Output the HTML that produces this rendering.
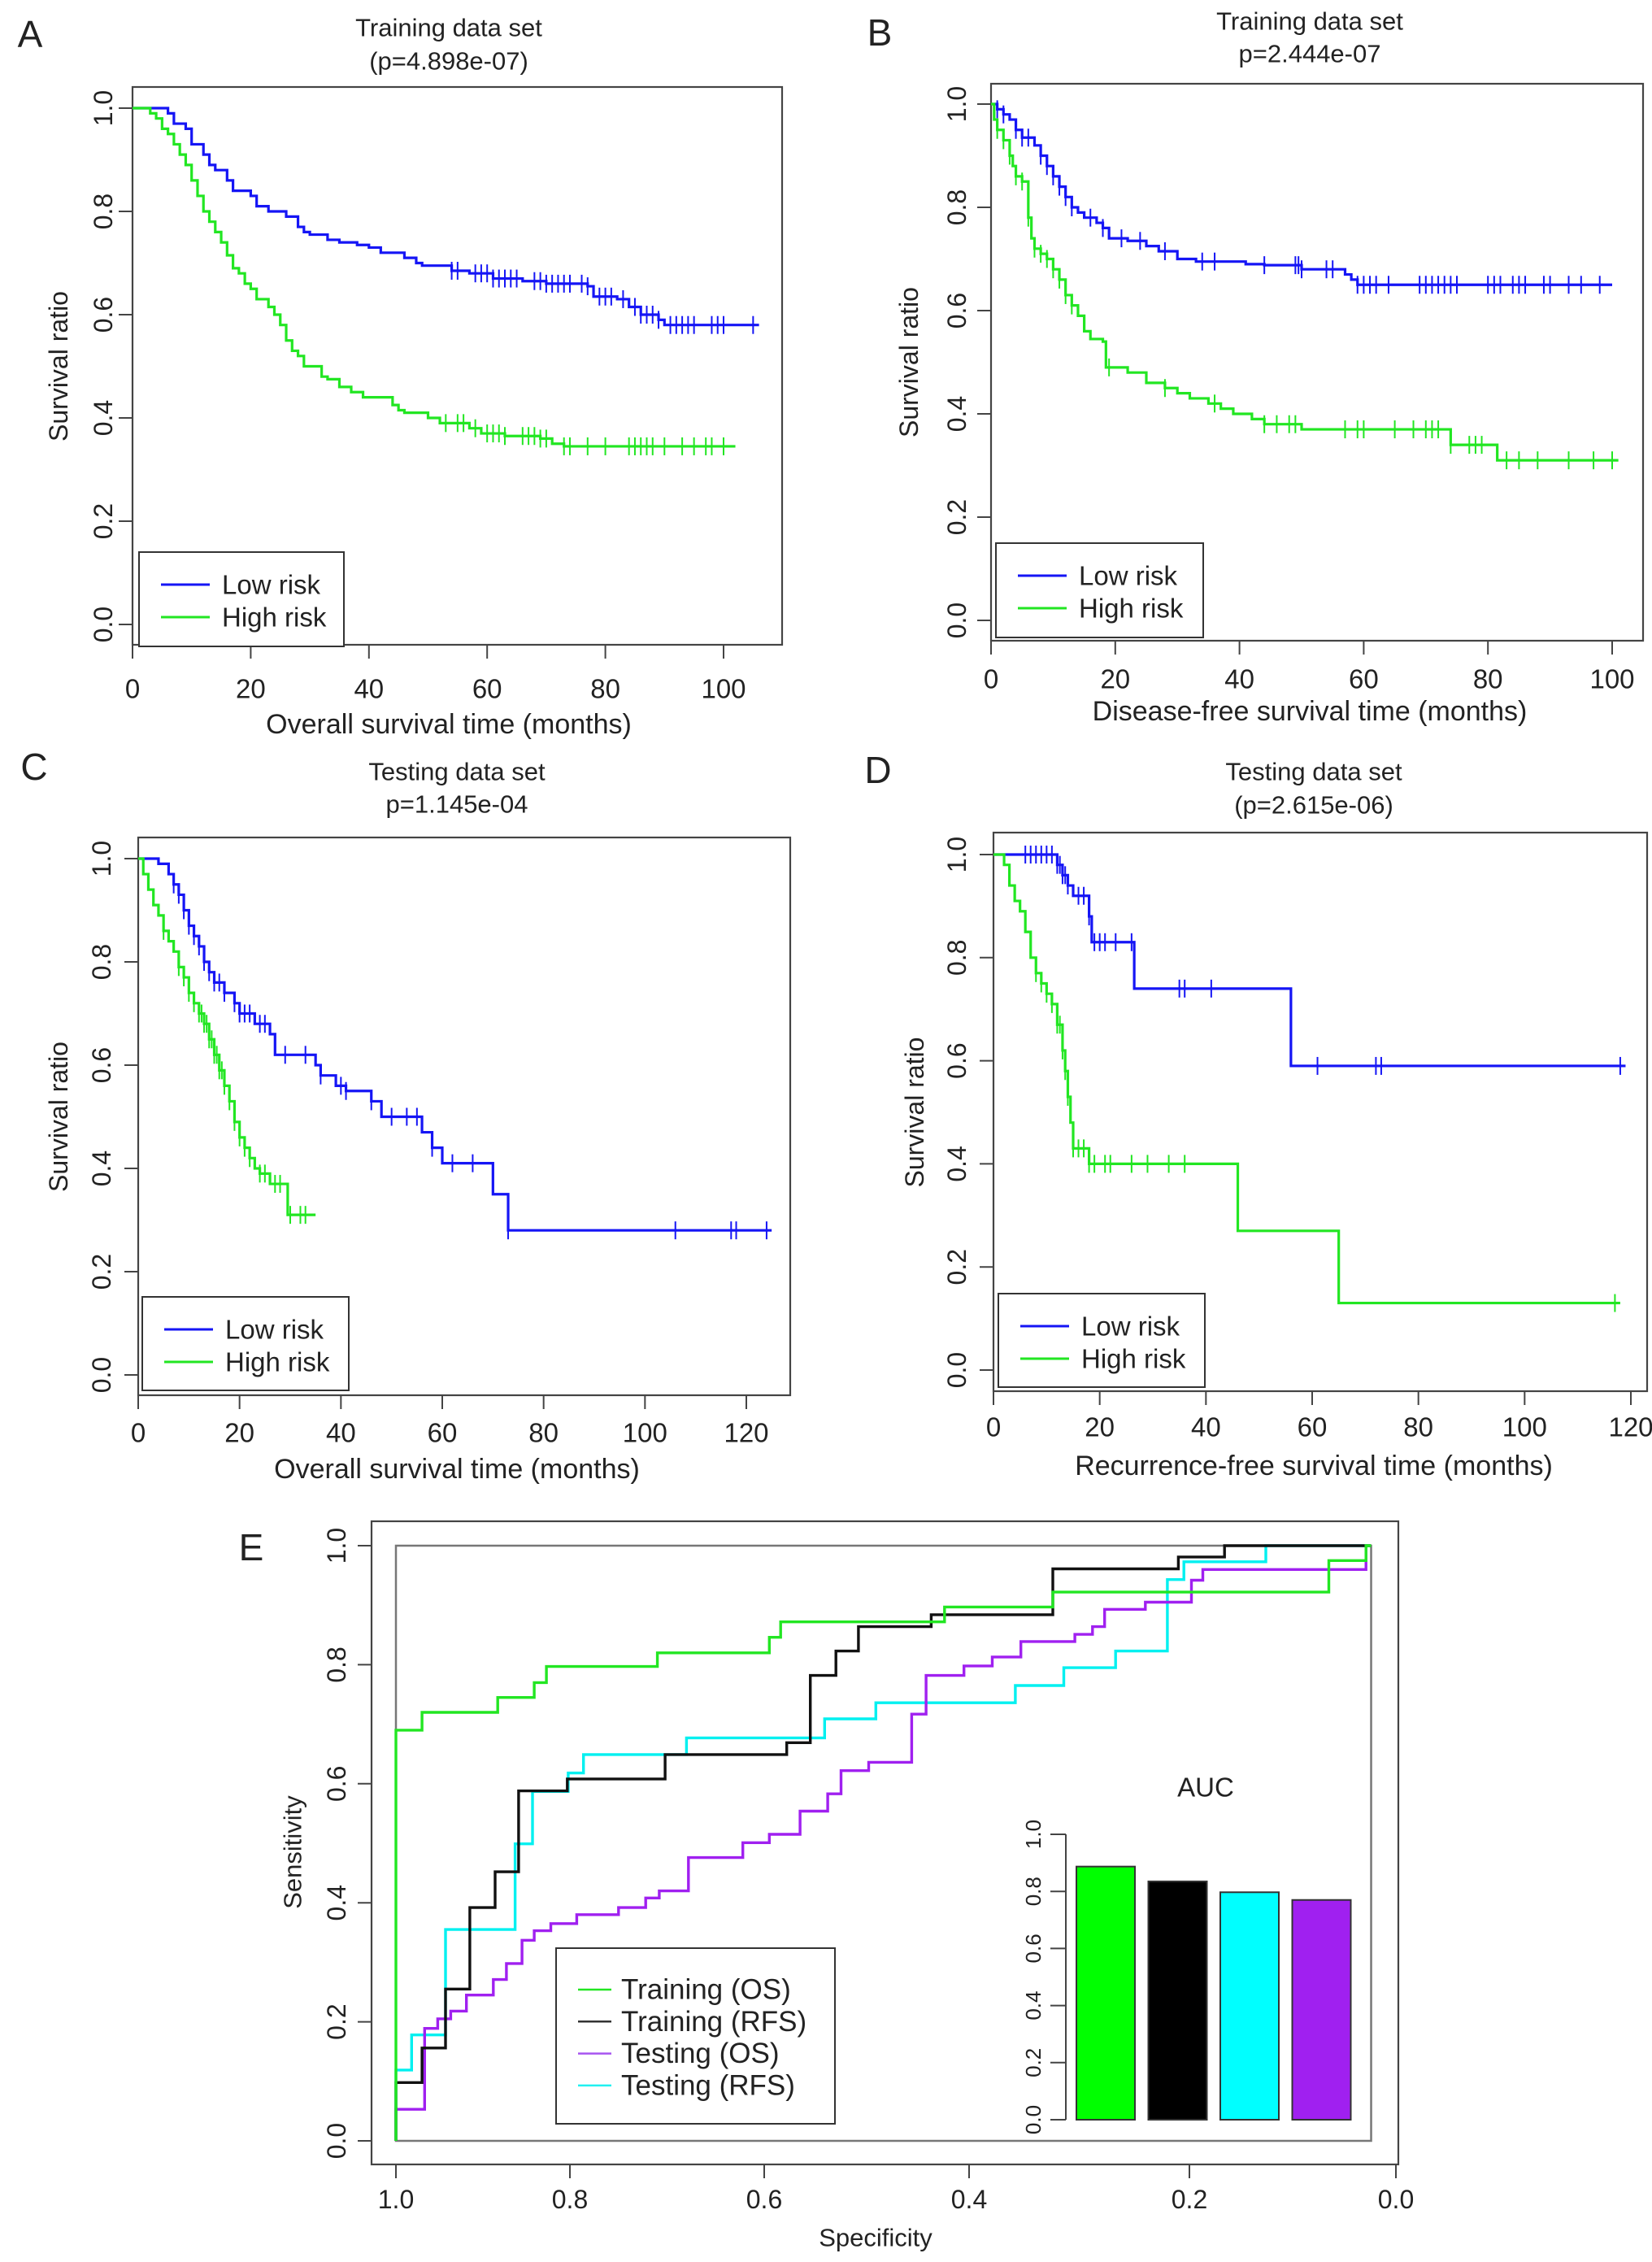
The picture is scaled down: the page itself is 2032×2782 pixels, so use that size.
<!DOCTYPE html>
<html><head><meta charset="utf-8"><style>
html,body{margin:0;padding:0;background:#fff}
svg{display:block;font-family:"Liberation Sans",sans-serif}
</style></head><body>
<svg id="fig" width="2032" height="2782" viewBox="0 0 2032 2782" xmlns="http://www.w3.org/2000/svg"></svg>
<script>
// ---------- Panel A data ----------
const aLowT=[0,4,6,7,9,10,12,13,14,16,17,20,21,23,26,28,29,30,33,35,38,40,42,46,48,49,54,57,61,66,70,77,78,82,84,86,89,90,106];
const aLowS=[1,1,.99,.97,.96,.93,.91,.89,.88,.86,.84,.83,.81,.80,.79,.77,.76,.755,.745,.74,.735,.73,.72,.71,.70,.695,.685,.68,.67,.665,.66,.655,.635,.63,.615,.60,.59,.58,.58];
const aLowC=[54,55,58,59,60,61,62,63,64,65,68,69,70,71,72,73,74,76,77,79,80,81,83,85,86,87,88,89,91,92,93,94,95,98,99,100,105];
const aHighT=[0,3,4,5,6,7,8,9,10,11,12,13,14,15,16,17,18,19,20,21,23,24,25,26,27,28,29,32,33,35,37,39,44,45,46,50,52,57,59,63,69,71,73,102];
const aHighS=[1,.99,.98,.96,.95,.93,.91,.89,.86,.83,.80,.78,.76,.74,.715,.69,.68,.66,.65,.63,.615,.60,.58,.55,.53,.52,.50,.48,.475,.46,.45,.44,.425,.415,.41,.40,.39,.38,.37,.365,.36,.35,.345,.345];
const aHighC=[53,55,56,58,60,61,62,63,66,67,68,69,70,73,74,77,80,84,85,86,87,88,90,93,95,97,98,100];
// ---------- Panel B data ----------
const bLowT=[0,1,2,3,4,5,7,8,9,10,11,12,13,14,15,17,18,19,22,25,27,30,33,41,44,50,57,58,59,100];
const bLowS=[1,.99,.98,.97,.95,.935,.92,.90,.88,.86,.84,.82,.80,.79,.78,.77,.76,.74,.735,.725,.715,.70,.695,.69,.688,.68,.67,.66,.65,.65];
const bLowC=[1,2,4,5,6,8,9,10,11,12,13,16,18,21,24,28,34,36,44,49,49.5,50,54,55,59,60,61,62,64,69,70,71,72,73,74,75,80,81,82,84,85,86,89,90,93,95,98];
const bHighT=[0,.5,1,2,3,3.5,4,5,6,6.5,7,8,9,10,11,12,13,14,15,16,18,18.5,22,25,28,30,32,35,37,39,42,44,50,74,81.5,101];
const bHighS=[1,.97,.95,.93,.90,.88,.86,.85,.78,.74,.72,.71,.70,.68,.66,.63,.61,.59,.56,.545,.54,.49,.48,.46,.45,.44,.43,.42,.41,.40,.39,.38,.37,.34,.31,.31];
const bHighC=[1,2,3,4,5,6,7,8,9,10,11,12,13,19,28,36,44,46,48,49,57,59,60,65,68,70,71,72,74,77,78,79,83,85,88,93,97,100];
// ---------- Panel C data ----------
const cLowT=[0,4,6,7,8,9,10,11,12,13,14,15,17,19,20,23,26,27,35,36,39,41,46,48,56,58,60,70,73,125];
const cLowS=[1,.99,.97,.95,.93,.90,.87,.85,.83,.80,.78,.76,.74,.72,.70,.68,.66,.62,.60,.58,.56,.55,.53,.50,.47,.44,.41,.35,.28,.28];
const cLowC=[7,8,9,10,11,12,13,14,15,16,17,19,20,21,22,24,25,29,33,36,40,41,46,50,53,55,58,62,66,73,106,117,118,124];
const cHighT=[0,1,2,3,4,5,6,7,8,9,10,11,12,13,14,15,16,17,18,19,20,21,22,23,24,26,29.5,35];
const cHighS=[1,.97,.94,.91,.89,.86,.84,.82,.79,.77,.74,.72,.70,.68,.65,.62,.59,.56,.53,.49,.46,.44,.42,.40,.39,.37,.31,.31];
const cHighC=[5,8,9,10,11,12,12.5,13,13.5,14,14.5,15,15.5,16,16.5,17,18,19,20,21,22,24,25,27,28,30,32,33];
// ---------- Panel D data ----------
const dLowT=[0,12,13,14,15,18,18.5,26.5,56,119];
const dLowS=[1,.98,.96,.94,.92,.88,.83,.74,.59,.59];
const dLowC=[6,7,8,9,10,11,12,12.5,13,13.5,14,16,17,18,19,20,21,23,26,35,36,41,61,72,73,118];
const dHighT=[0,2,3,4,5,6,7,8,9,10,11,12,13,13.5,14,14.5,15,18,46,65,118];
const dHighS=[1,.98,.94,.91,.89,.85,.80,.77,.75,.73,.71,.67,.62,.58,.53,.48,.43,.40,.27,.13,.13];
const dHighC=[8,9,10,11,12,12.5,13,13.5,14,15,16,17,18,19,21,22,26,29,33,36,117];
// ---------- Panel E data (ROC: specificity / sensitivity step vertices) ----------
const trOsSpec=[1,1,.97,.97,.883,.883,.841,.841,.827,.827,.71,.71,.595,.595,.584,.584,.424,.424,.324,.324,.065,.065,.029,.029,.024];
const trOsSens=[0,.69,.69,.72,.72,.745,.745,.77,.77,.797,.797,.82,.82,.846,.846,.872,.872,.897,.897,.922,.922,.975,.975,1,1];
const trRfsSpec=[1,1,.97,.97,.943,.943,.915,.915,.886,.886,.859,.859,.803,.803,.702,.702,.578,.578,.555,.555,.53,.53,.508,.508,.437,.437,.324,.324,.21,.21,.166,.166,.024];
const trRfsSens=[0,.098,.098,.156,.156,.255,.255,.392,.392,.452,.452,.588,.588,.608,.608,.649,.649,.669,.669,.782,.782,.823,.823,.864,.864,.884,.884,.961,.961,.981,.981,1,1];
const teOsSpec=[1,1,.967,.967,.952,.952,.937,.937,.919,.919,.888,.888,.873,.873,.855,.855,.841,.841,.822,.822,.793,.793,.75,.75,.722,.722,.708,.708,.678,.678,.622,.622,.595,.595,.565,.565,.538,.538,.525,.525,.498,.498,.456,.456,.442,.442,.405,.405,.379,.379,.353,.353,.304,.304,.288,.288,.277,.277,.24,.24,.198,.198,.187,.187,.029,.029];
const teOsSens=[0,.053,.053,.189,.189,.205,.205,.218,.218,.245,.245,.271,.271,.298,.298,.337,.337,.353,.353,.365,.365,.38,.38,.392,.392,.408,.408,.42,.42,.476,.476,.501,.501,.515,.515,.554,.554,.583,.583,.622,.622,.636,.636,.717,.717,.782,.782,.798,.798,.813,.813,.839,.839,.851,.851,.864,.864,.893,.893,.905,.905,.942,.942,.96,.96,1];
const teRfsSpec=[1,1,.982,.982,.943,.943,.863,.863,.843,.843,.802,.802,.786,.786,.68,.68,.541,.541,.491,.491,.358,.358,.314,.314,.267,.267,.22,.22,.205,.205,.126,.126,.024];
const teRfsSens=[0,.119,.119,.178,.178,.355,.355,.499,.499,.587,.587,.618,.618,.649,.649,.677,.677,.709,.709,.736,.736,.765,.765,.795,.795,.823,.823,.943,.943,.973,.973,1,1];
const aucLabels=["Training (OS)","Training (RFS)","Testing (RFS)","Testing (OS)"];
const aucValues=[0.887,0.835,0.797,0.77];
const specTicks=[1.0,0.8,0.6,0.4,0.2,0.0];
const unitTicks=[0,0.2,0.4,0.6,0.8,1.0];

const NS="http://www.w3.org/2000/svg";
const svg=document.getElementById('fig');
function el(tag,attrs,parent){const e=document.createElementNS(NS,tag);for(const k in attrs)e.setAttribute(k,attrs[k]);(parent||svg).appendChild(e);return e;}
function txt(s,x,y,size,parent,rot,anchor){const t=el('text',{x:x,y:y,'font-size':size,'text-anchor':anchor||'middle','dominant-baseline':'central',fill:'#222'},parent);if(rot)t.setAttribute('transform','rotate(-90 '+x+' '+y+')');t.textContent=s;return t;}
const BLUE='#1515f5',GREEN='#22e622';

function kmPanel(cfg){
  const g=el('g',{});
  
  
  const X=t=>cfg.x0+(t/cfg.xMax)*(cfg.x1-cfg.x0), Y=s=>cfg.y0+(1-s)*(cfg.y1-cfg.y0);
  const L=txt(cfg.letter,cfg.lx,cfg.ly,46,g,false,'middle');
  
  
  const t1=txt(cfg.t1,cfg.tc,cfg.ty1,31,g);
  const t2=txt(cfg.t2,cfg.tc,cfg.ty2,31,g);
  const box=el('rect',{x:cfg.bx0,y:cfg.by0,width:cfg.bx1-cfg.bx0,height:cfg.by1-cfg.by0,fill:'none',stroke:'#444','stroke-width':2.2},g);
  
  for(const v of unitTicks){const y=Y(v);el('line',{x1:cfg.bx0,x2:cfg.bx0-17,y1:y,y2:y,stroke:'#444','stroke-width':2},g);
    const tl=txt(v.toFixed(1),cfg.ytx,y,32,g,true);}
  el('line',{x1:cfg.bx0,x2:cfg.bx0,y1:Y(0),y2:Y(1),stroke:'#444','stroke-width':2},g);
  const yl=txt('Survival ratio',cfg.ylx,(cfg.y0+cfg.y1)/2,32,g,true);
  for(const v of cfg.xt){const x=X(v);el('line',{x1:x,x2:x,y1:cfg.by1,y2:cfg.by1+17,stroke:'#444','stroke-width':2},g);
    const tl=txt(String(v),x,cfg.xty,33,g);}
  el('line',{x1:X(cfg.xt[0]),x2:X(cfg.xt[cfg.xt.length-1]),y1:cfg.by1,y2:cfg.by1,stroke:'#444','stroke-width':2},g);
  const xl=txt(cfg.xlab,cfg.tc,cfg.xly,34,g);
  const series=[[cfg.low,BLUE,'low-risk-curve'],[cfg.high,GREEN,'high-risk-curve']];
  for(const [s,col,nm] of series){
    const T=s[0],S=s[1],C=s[2];let d='M'+X(T[0])+' '+Y(S[0]);
    for(let i=1;i<T.length;i++){d+=' H'+X(T[i])+' V'+Y(S[i]);}
    const p=el('path',{d:d,fill:'none',stroke:col,'stroke-width':3.2},g);
    
    for(const c of C){let sv=S[0];for(let i=0;i<T.length;i++){if(T[i]<=c)sv=S[i];}
      const m=el('line',{x1:X(c),x2:X(c),y1:Y(sv)-11,y2:Y(sv)+11,stroke:col,'stroke-width':2},g);
      }
  }
  const lg=el('g',{},g);
  el('rect',{x:cfg.lg[0],y:cfg.lg[1],width:cfg.lg[2]-cfg.lg[0],height:cfg.lg[3]-cfg.lg[1],fill:'#fff',stroke:'#333','stroke-width':2},lg);
  const rows=[['Low risk',BLUE],['High risk',GREEN]];
  rows.forEach((r,i)=>{const y=cfg.lg[1]+40+i*40;
    const ln=el('line',{x1:cfg.lg[0]+27,x2:cfg.lg[0]+87,y1:y,y2:y,stroke:r[1],'stroke-width':3},lg);
    
    const tt=txt(r[0],cfg.lg[0]+102,y,33,lg,false,'start');});
}

kmPanel({name:'panel-a',letter:'A',lx:37,ly:42,t1:'Training data set',t2:'(p=4.898e-07)',tc:552,ty1:34,ty2:75,
 bx0:163,by0:107,bx1:962,by1:793,x0:163,x1:890,xMax:100,y0:133,y1:768,xt:[0,20,40,60,80,100],ytx:127,ylx:72,xty:847,xlab:'Overall survival time (months)',xly:891,
 lg:[171,679,423,795],low:[aLowT,aLowS,aLowC],high:[aHighT,aHighS,aHighC]});
kmPanel({name:'panel-b',letter:'B',lx:1082,ly:40,t1:'Training data set',t2:'p=2.444e-07',tc:1611,ty1:26,ty2:66,
 bx0:1219,by0:103,bx1:2021,by1:788,x0:1219,x1:1983,xMax:100,y0:128,y1:763,xt:[0,20,40,60,80,100],ytx:1177,ylx:1118,xty:835,xlab:'Disease-free survival time (months)',xly:875,
 lg:[1225,668,1480,784],low:[bLowT,bLowS,bLowC],high:[bHighT,bHighS,bHighC]});
kmPanel({name:'panel-c',letter:'C',lx:42,ly:943,t1:'Testing data set',t2:'p=1.145e-04',tc:562,ty1:949,ty2:989,
 bx0:170,by0:1030,bx1:972,by1:1716,x0:170,x1:918,xMax:120,y0:1056,y1:1691,xt:[0,20,40,60,80,100,120],ytx:125,ylx:72,xty:1762,xlab:'Overall survival time (months)',xly:1807,
 lg:[175,1595,429,1710],low:[cLowT,cLowS,cLowC],high:[cHighT,cHighS,cHighC]});
kmPanel({name:'panel-d',letter:'D',lx:1080,ly:947,t1:'Testing data set',t2:'(p=2.615e-06)',tc:1616,ty1:949,ty2:990,
 bx0:1222,by0:1024,bx1:2026,by1:1711,x0:1222,x1:2006,xMax:120,y0:1051,y1:1685,xt:[0,20,40,60,80,100,120],ytx:1177,ylx:1125,xty:1755,xlab:'Recurrence-free survival time (months)',xly:1803,
 lg:[1228,1591,1482,1706],low:[dLowT,dLowS,dLowC],high:[dHighT,dHighS,dHighC]});

// ---------- Panel E ----------
(function(){
  const g=el('g',{});
  
  
  const tickPx=[487,701,940,1192,1463,1717];
  const X=s=>{const u=1-s;const i=Math.min(4,Math.floor(u/0.2));const f=(u-i*0.2)/0.2;return tickPx[i]+f*(tickPx[i+1]-tickPx[i]);};
  const Y=v=>2633-v*(2633-1901);
  const L=txt('E',309,1903,46,g);
  const ob=el('rect',{x:457,y:1871,width:1263,height:791,fill:'none',stroke:'#444','stroke-width':2.2},g);
  
  const ib=el('rect',{x:X(1),y:Y(1),width:X(0.024)-X(1),height:Y(0)-Y(1),fill:'none',stroke:'#777','stroke-width':2.5},g);
  
  for(const v of unitTicks){const y=Y(v);el('line',{x1:457,x2:440,y1:y,y2:y,stroke:'#444','stroke-width':2},g);
    const tl=txt(v.toFixed(1),414,y,32,g,true);}
  el('line',{x1:457,x2:457,y1:Y(0),y2:Y(1),stroke:'#444','stroke-width':2},g);
  for(const v of specTicks){const x=X(v);el('line',{x1:x,x2:x,y1:2662,y2:2679,stroke:'#444','stroke-width':2},g);
    const tl=txt(v.toFixed(1),x,2705,32,g);}
  const yl=txt('Sensitivity',360,2278,31,g,true);
  const xl=txt('Specificity',1077,2752,31,g);
  const curves=[[teRfsSpec,teRfsSens,'#00f0f0','roc-testing-rfs'],[teOsSpec,teOsSens,'#a020f0','roc-testing-os'],[trRfsSpec,trRfsSens,'#111','roc-training-rfs'],[trOsSpec,trOsSens,GREEN,'roc-training-os']];
  for(const [sx,sy,col,nm] of curves){let d='';for(let i=0;i<sx.length;i++){d+=(i?' L':'M')+X(sx[i]).toFixed(1)+' '+Y(sy[i]).toFixed(1);}
    const p=el('path',{d:d,fill:'none',stroke:col,'stroke-width':3.4},g);
    }
  const lg=el('g',{},g);
  el('rect',{x:684,y:2396,width:343,height:216,fill:'#fff',stroke:'#333','stroke-width':2},lg);
  const ent=[['Training (OS)',GREEN],['Training (RFS)','#333'],['Testing (OS)','#a855f0'],['Testing (RFS)','#22f0f0']];
  ent.forEach((e,i)=>{const y=2447+i*39.3;
    const ln=el('line',{x1:711,x2:752,y1:y,y2:y,stroke:e[1],'stroke-width':2.5},lg);
    
    const tt=txt(e[0],764,y,35,lg,false,'start');});
  const ig=el('g',{},g);
  const BY=v=>2607-v*(2607-2256);
  const barX=i=>1324+i*88.5, barW=72;
  const barCols=['#00ff00','#000000','#00ffff','#a020f0'];
  const at=txt('AUC',1483,2198,33,ig);
  el('line',{x1:1311,x2:1311,y1:BY(0),y2:BY(1),stroke:'#444','stroke-width':2},ig);
  for(const v of unitTicks){const y=BY(v);el('line',{x1:1311,x2:1292,y1:y,y2:y,stroke:'#444','stroke-width':2},ig);
    const tl=txt(v.toFixed(1),1271,y,26,ig,true);}
  aucValues.forEach((v,i)=>{const r=el('rect',{x:barX(i),y:BY(v),width:barW,height:BY(0)-BY(v),fill:barCols[i],stroke:'#333','stroke-width':2},ig);
    
    const tt=el('title',{},r);tt.textContent=aucLabels[i];});
})();
</script>
</body></html>
